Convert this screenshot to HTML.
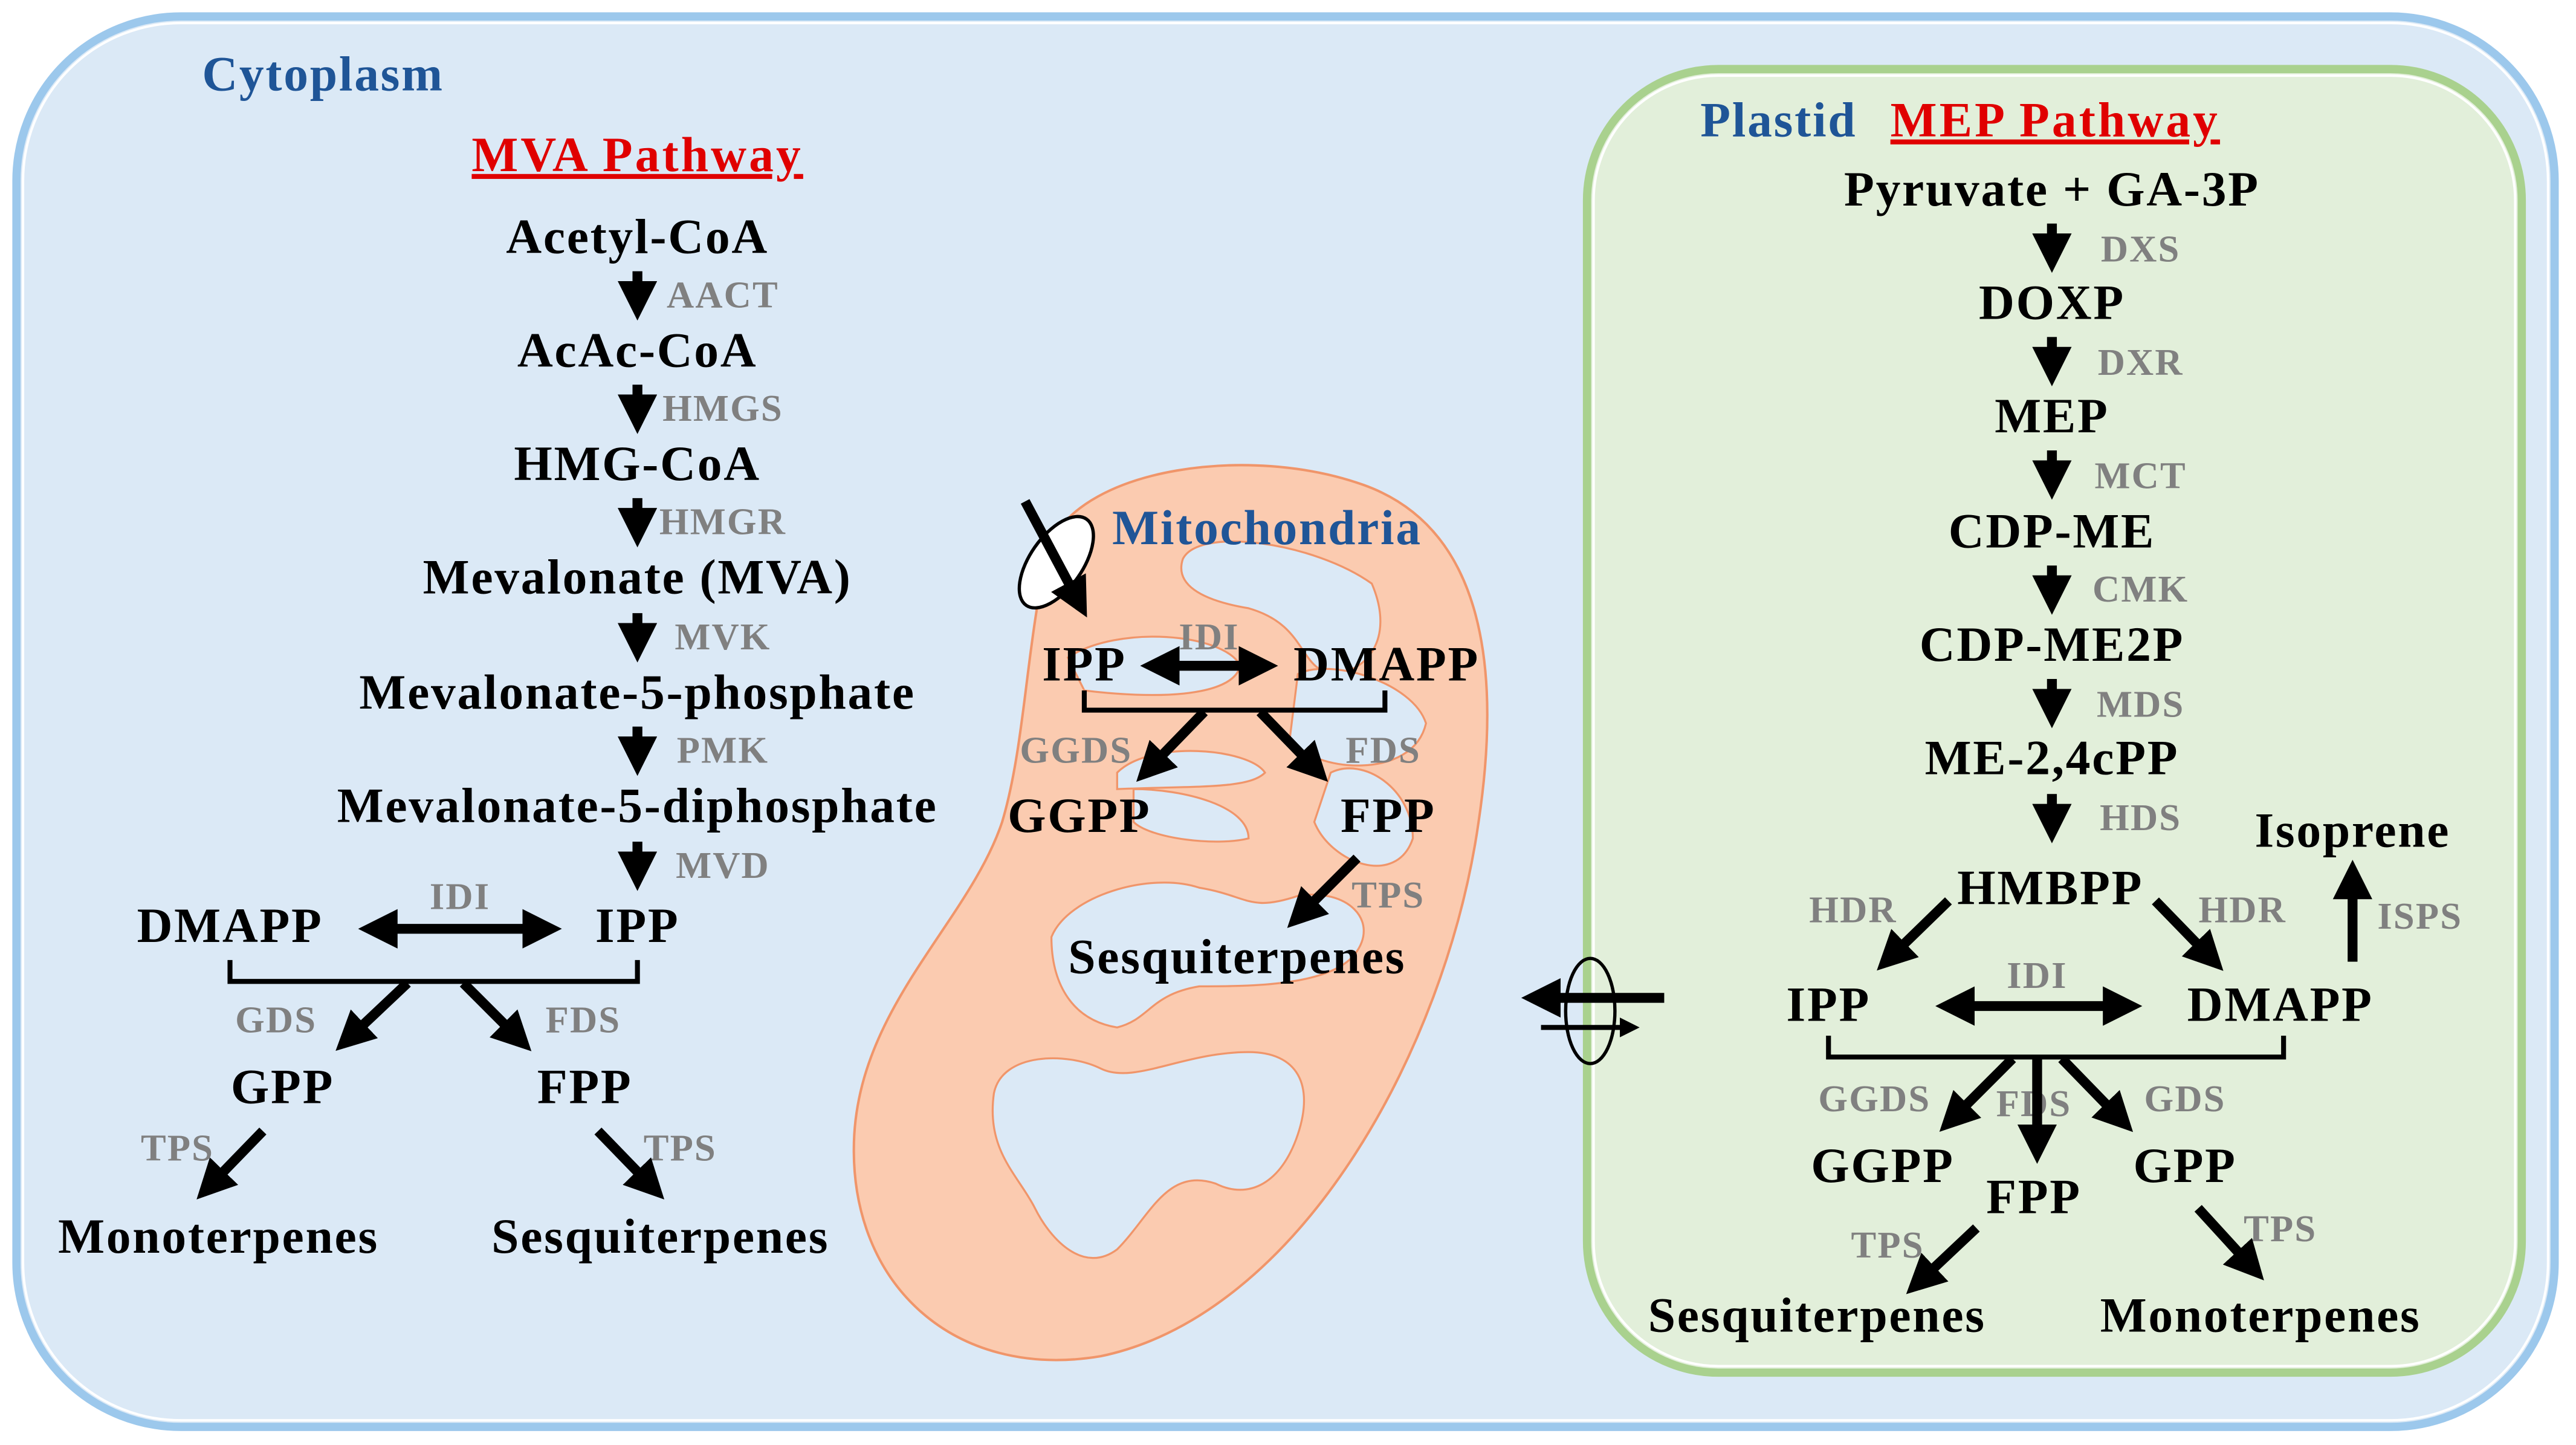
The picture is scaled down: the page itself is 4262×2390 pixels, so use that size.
<!DOCTYPE html>
<html><head><meta charset="utf-8"><style>
html,body{margin:0;padding:0;background:#fff}
svg{display:block}
.t{font-family:"Liberation Serif",serif;font-weight:bold;font-size:30px;letter-spacing:1px;fill:#000;text-anchor:middle}
.e{font-family:"Liberation Serif",serif;font-weight:bold;font-size:23px;letter-spacing:0.8px;fill:#808080;text-anchor:middle}
.b{font-family:"Liberation Serif",serif;font-weight:bold;font-size:30px;letter-spacing:1px;fill:#1f5597}
.r{font-family:"Liberation Serif",serif;font-weight:bold;font-size:30px;letter-spacing:1.5px;fill:#e00000;text-anchor:middle;text-decoration:underline}
</style></head><body>
<svg width="4262" height="2390" viewBox="0 0 1568 879" preserveAspectRatio="none" xmlns="http://www.w3.org/2000/svg">
<defs>
<marker id="a" markerWidth="4" markerHeight="4" refX="2" refY="2" orient="auto" markerUnits="strokeWidth"><path d="M0,0 L4,2 L0,4 Z" fill="#000"/></marker>
<marker id="s" markerWidth="4" markerHeight="4" refX="2" refY="2" orient="auto-start-reverse" markerUnits="strokeWidth"><path d="M0,0 L4,2 L0,4 Z" fill="#000"/></marker>
</defs>
<rect width="1568" height="879" fill="#fff"/>
<rect x="10" y="10" width="1545" height="858" rx="100" fill="#dbe9f6" stroke="#9cc8ec" stroke-width="5"/>
<rect x="14" y="14" width="1537" height="850" rx="96" fill="none" stroke="#fff" stroke-width="1.5"/>
<rect x="966" y="42" width="569" height="793" rx="80" fill="#e2efda" stroke="#a9d18e" stroke-width="5"/>
<rect x="970" y="46" width="561" height="785" rx="76" fill="none" stroke="#fff" stroke-width="1.5"/>

<!-- mitochondria -->
<path d="M640,330 C660,285 760,270 830,295 C900,320 915,400 900,500 C880,640 790,800 670,825 C580,840 515,780 520,690 C525,610 590,560 610,500 C625,450 625,380 640,330 Z" fill="#fbcbb0" stroke="#f0956a" stroke-width="1.5"/>
<g fill="#dbe9f6" stroke="#f0956a" stroke-width="1.2">
<path d="M720,340 C730,320 800,330 835,355 C850,390 830,410 810,410 C790,405 795,380 760,370 C730,365 715,355 720,340 Z"/>
<path d="M650,400 C680,380 745,385 755,405 C750,425 700,425 660,420 Z"/>
<path d="M790,410 C810,400 860,415 868,440 C860,475 800,470 785,450 Z"/>
<path d="M680,470 C700,450 760,455 770,470 C760,480 730,478 680,480 Z"/>
<path d="M690,480 C720,480 760,490 760,510 C740,515 700,510 690,500 Z"/>
<path d="M810,470 C830,460 860,480 860,510 C850,540 810,525 800,500 Z"/>
<path d="M640,570 C650,545 700,530 730,540 C760,545 760,555 790,545 C820,540 840,560 825,580 C810,600 760,600 730,600 C700,605 700,620 680,625 C650,620 640,595 640,570 Z"/>
<path d="M605,665 C610,640 650,640 670,650 C690,660 720,640 760,640 C790,640 800,660 790,690 C780,720 760,730 740,720 C710,710 700,740 680,760 C660,775 640,755 630,735 C620,715 600,700 605,665 Z"/>
</g>

<text class="b" x="123" y="55">Cytoplasm</text>
<text class="r" x="388" y="104">MVA Pathway</text>
<text class="t" x="388" y="154">Acetyl-CoA</text>
<text class="t" x="388" y="223">AcAc-CoA</text>
<text class="t" x="388" y="292">HMG-CoA</text>
<text class="t" x="388" y="361">Mevalonate (MVA)</text>
<text class="t" x="388" y="431">Mevalonate-5-phosphate</text>
<text class="t" x="388" y="500">Mevalonate-5-diphosphate</text>
<text class="t" x="140" y="573">DMAPP</text>
<text class="t" x="388" y="573">IPP</text>
<text class="t" x="172" y="671">GPP</text>
<text class="t" x="356" y="671">FPP</text>
<text class="t" x="133" y="762">Monoterpenes</text>
<text class="t" x="402" y="762">Sesquiterpenes</text>
<text class="e" x="440" y="187">AACT</text>
<text class="e" x="440" y="256">HMGS</text>
<text class="e" x="440" y="325">HMGR</text>
<text class="e" x="440" y="395">MVK</text>
<text class="e" x="440" y="464">PMK</text>
<text class="e" x="440" y="534">MVD</text>
<text class="e" x="280" y="553">IDI</text>
<text class="e" x="168" y="628">GDS</text>
<text class="e" x="355" y="628">FDS</text>
<text class="e" x="108" y="706">TPS</text>
<text class="e" x="414" y="706">TPS</text>
<g stroke="#000" stroke-width="6" fill="none">
<line x1="388" y1="165" x2="388" y2="183" marker-end="url(#a)"/>
<line x1="388" y1="234" x2="388" y2="252" marker-end="url(#a)"/>
<line x1="388" y1="303" x2="388" y2="321" marker-end="url(#a)"/>
<line x1="388" y1="373" x2="388" y2="391" marker-end="url(#a)"/>
<line x1="388" y1="442" x2="388" y2="460" marker-end="url(#a)"/>
<line x1="388" y1="512" x2="388" y2="530" marker-end="url(#a)"/>
<line x1="230" y1="565" x2="330" y2="565" marker-end="url(#s)" marker-start="url(#s)"/>
<line x1="248" y1="598" x2="213" y2="631" marker-end="url(#a)"/>
<line x1="282" y1="598" x2="315" y2="631" marker-end="url(#a)"/>
<line x1="160" y1="688" x2="128" y2="721" marker-end="url(#a)"/>
<line x1="364" y1="688" x2="396" y2="721" marker-end="url(#a)"/>
</g>
<path d="M140,584 V597 H388 V584" stroke="#000" stroke-width="3" fill="none"/>

<!-- mito content -->
<text class="b" x="677" y="331">Mitochondria</text>
<ellipse cx="643" cy="342" rx="16" ry="32" transform="rotate(35 643 342)" fill="#fff" stroke="#000" stroke-width="2"/>
<line x1="624" y1="305" x2="656" y2="365" stroke="#000" stroke-width="6" marker-end="url(#a)"/>
<text class="t" x="660" y="414">IPP</text>
<text class="t" x="844" y="414">DMAPP</text>
<text class="e" x="736" y="395">IDI</text>
<text class="e" x="655" y="464">GGDS</text>
<text class="e" x="842" y="464">FDS</text>
<text class="t" x="657" y="506">GGPP</text>
<text class="t" x="845" y="506">FPP</text>
<text class="e" x="845" y="552">TPS</text>
<text class="t" x="753" y="592">Sesquiterpenes</text>
<path d="M660,420 V432 H843 V420" stroke="#000" stroke-width="3" fill="none"/>
<g stroke="#000" stroke-width="6" fill="none">
<line x1="706" y1="405" x2="766" y2="405" marker-end="url(#s)" marker-start="url(#s)"/>
<line x1="733" y1="433" x2="700" y2="467" marker-end="url(#a)"/>
<line x1="767" y1="433" x2="800" y2="467" marker-end="url(#a)"/>
<line x1="826" y1="522" x2="792" y2="556" marker-end="url(#a)"/>
</g>

<!-- transport -->
<line x1="1013" y1="607" x2="938" y2="607" stroke="#000" stroke-width="6" marker-end="url(#a)"/>
<line x1="938" y1="625" x2="992" y2="625" stroke="#000" stroke-width="3" marker-end="url(#a)"/>
<ellipse cx="968" cy="615" rx="15" ry="32" fill="none" stroke="#000" stroke-width="2"/>

<!-- plastid -->
<text class="b" x="1035" y="83">Plastid</text>
<text class="r" x="1251" y="83">MEP Pathway</text>
<text class="t" x="1249" y="125">Pyruvate + GA-3P</text>
<text class="t" x="1249" y="194">DOXP</text>
<text class="t" x="1249" y="263">MEP</text>
<text class="t" x="1249" y="333">CDP-ME</text>
<text class="t" x="1249" y="402">CDP-ME2P</text>
<text class="t" x="1249" y="471">ME-2,4cPP</text>
<text class="t" x="1248" y="550">HMBPP</text>
<text class="t" x="1432" y="515">Isoprene</text>
<text class="t" x="1113" y="621">IPP</text>
<text class="t" x="1388" y="621">DMAPP</text>
<text class="t" x="1146" y="719">GGPP</text>
<text class="t" x="1238" y="738">FPP</text>
<text class="t" x="1330" y="719">GPP</text>
<text class="t" x="1106" y="810">Sesquiterpenes</text>
<text class="t" x="1376" y="810">Monoterpenes</text>
<text class="e" x="1303" y="159">DXS</text>
<text class="e" x="1303" y="228">DXR</text>
<text class="e" x="1303" y="297">MCT</text>
<text class="e" x="1303" y="366">CMK</text>
<text class="e" x="1303" y="436">MDS</text>
<text class="e" x="1303" y="505">HDS</text>
<text class="e" x="1128" y="561">HDR</text>
<text class="e" x="1365" y="561">HDR</text>
<text class="e" x="1473" y="565">ISPS</text>
<text class="e" x="1240" y="601">IDI</text>
<text class="e" x="1141" y="676">GGDS</text>
<text class="e" x="1238" y="679">FDS</text>
<text class="e" x="1330" y="676">GDS</text>
<text class="e" x="1149" y="765">TPS</text>
<text class="e" x="1388" y="755">TPS</text>
<path d="M1113,630 V643 H1390 V630" stroke="#000" stroke-width="3" fill="none"/>
<g stroke="#000" stroke-width="6" fill="none">
<line x1="1249" y1="136" x2="1249" y2="154" marker-end="url(#a)"/>
<line x1="1249" y1="205" x2="1249" y2="223" marker-end="url(#a)"/>
<line x1="1249" y1="274" x2="1249" y2="292" marker-end="url(#a)"/>
<line x1="1249" y1="344" x2="1249" y2="362" marker-end="url(#a)"/>
<line x1="1249" y1="413" x2="1249" y2="431" marker-end="url(#a)"/>
<line x1="1249" y1="483" x2="1249" y2="501" marker-end="url(#a)"/>
<line x1="1186" y1="548" x2="1151" y2="582" marker-end="url(#a)"/>
<line x1="1312" y1="548" x2="1345" y2="582" marker-end="url(#a)"/>
<line x1="1432" y1="585" x2="1432" y2="535" marker-end="url(#a)"/>
<line x1="1190" y1="612" x2="1292" y2="612" marker-end="url(#s)" marker-start="url(#s)"/>
<line x1="1225" y1="644" x2="1189" y2="680" marker-end="url(#a)"/>
<line x1="1240" y1="644" x2="1240" y2="696" marker-end="url(#a)"/>
<line x1="1255" y1="644" x2="1290" y2="680" marker-end="url(#a)"/>
<line x1="1203" y1="747" x2="1169" y2="779" marker-end="url(#a)"/>
<line x1="1338" y1="735" x2="1370" y2="770" marker-end="url(#a)"/>
</g>
</svg>
</body></html>
